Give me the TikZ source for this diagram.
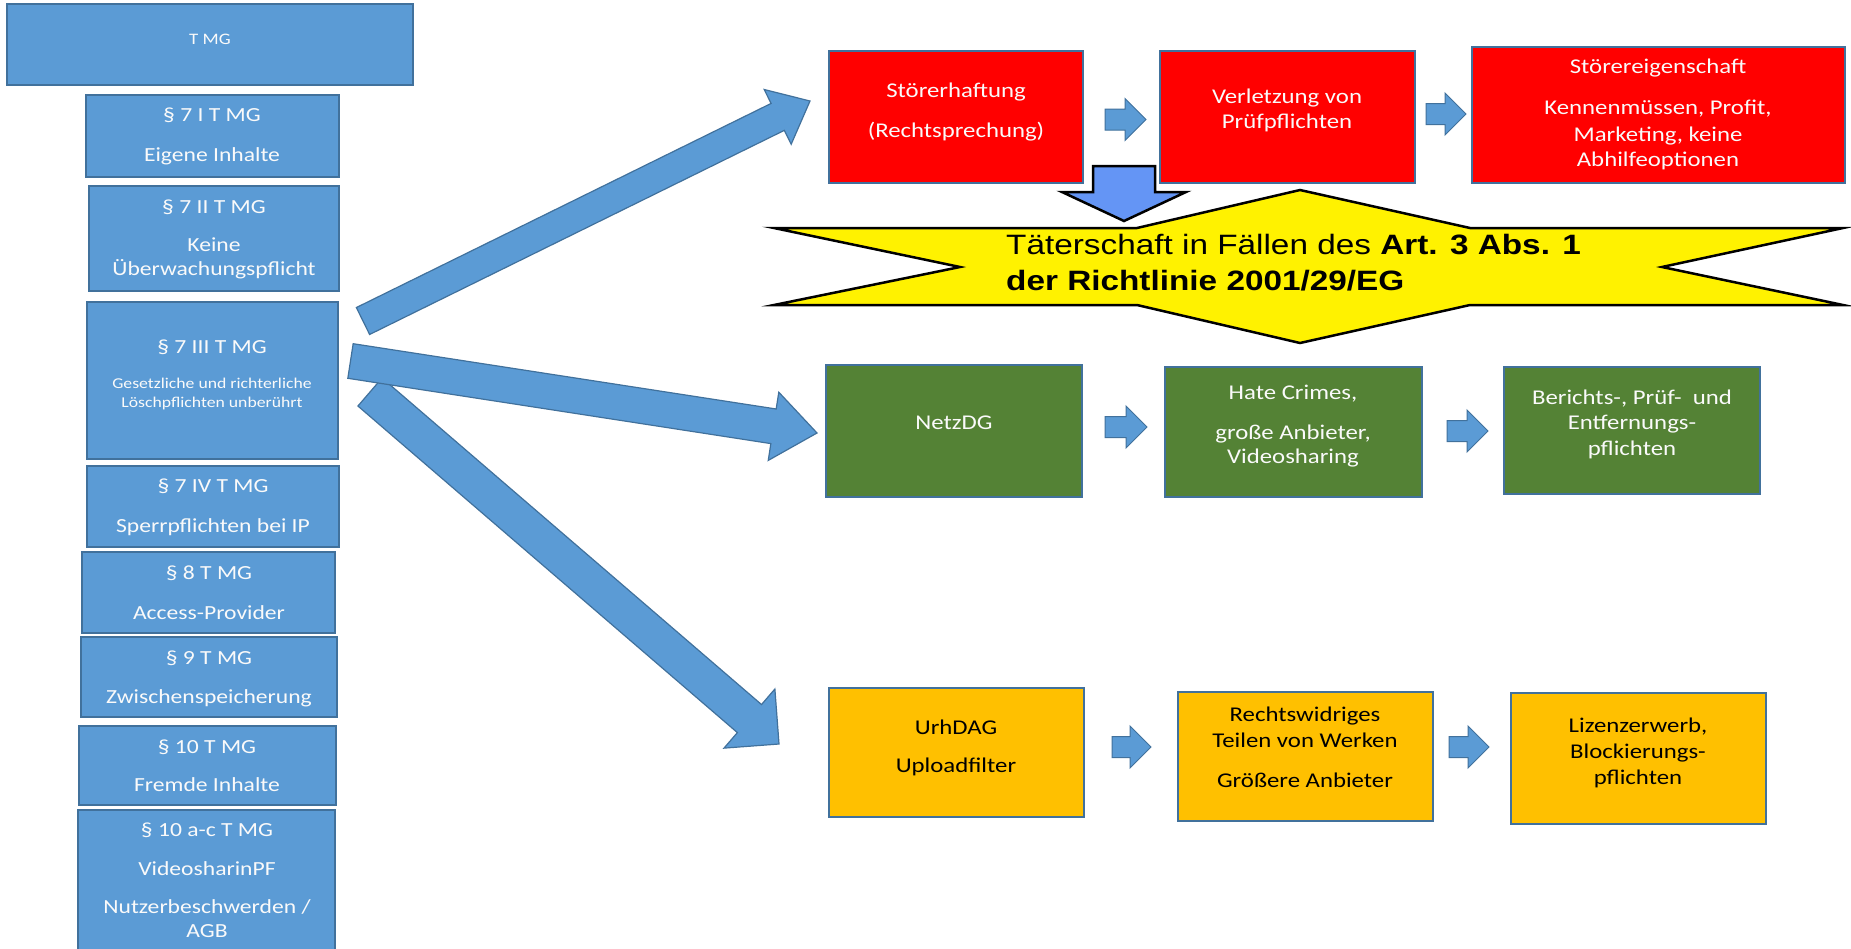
\documentclass[tikz,border=0pt]{standalone}
\usepackage{fontspec}
\setmainfont[FakeStretch=1.18]{Carlito}
\newfontfamily\arialf[FakeStretch=1.19]{Liberation Sans}
\usetikzlibrary{calc}
\definecolor{boxblue}{RGB}{91,155,213}
\definecolor{edgeblue}{RGB}{65,113,156}
\definecolor{dgreen}{RGB}{84,130,53}
\definecolor{orng}{RGB}{255,192,0}
\definecolor{redbox}{RGB}{255,0,0}
\definecolor{downblue}{RGB}{100,149,245}
\definecolor{txtwhite}{RGB}{250,250,250}
\newcommand{\bx}[6]{\node[boxs, fill=#2, minimum width={#5-#3}, minimum height={#6-#4}] (#1) at ({(#3+#5)/2},{(#4+#6)/2}) {};}
\newcommand{\blkarrow}[7]{%
  \coordinate (#7h) at ($(#3)!#6!(#2)$);
  \draw[#1] ($(#2)!#4!90:(#3)$) -- ($(#7h)!#4!-90:(#2)$) -- ($(#7h)!#5!-90:(#2)$) -- (#3) -- ($(#7h)!#5!90:(#2)$) -- ($(#7h)!#4!90:(#2)$) -- ($(#2)!#4!-90:(#3)$) -- cycle;}
\begin{document}
\begin{tikzpicture}[x=1pt,y=-1pt,
  boxs/.style={draw=edgeblue, line width=1.3pt, inner sep=0pt, outer sep=0pt},
  wt/.style={text=txtwhite, anchor=base, inner sep=0pt, font=\fontsize{20}{24}\selectfont},
  wts/.style={wt, font=\fontsize{15}{18}\selectfont},
  rt/.style={text=txtwhite, anchor=base, inner sep=0pt, font=\fontsize{21}{25}\selectfont},
  bt/.style={text=black, anchor=base, inner sep=0pt, font=\fontsize{21}{25}\selectfont},
  bigarr/.style={fill=boxblue, draw=edgeblue, line width=1.2pt, line join=miter},
  smallarr/.style={fill=boxblue, draw=edgeblue, line width=1pt, line join=miter},
  downarr/.style={fill=downblue, draw=black, line width=2.5pt, line join=miter},
  starst/.style={fill=yellow, draw=black, line width=2.5pt, line join=miter},
  startxt/.style={anchor=base west, inner sep=0pt, text=black, font=\arialf\fontsize{28}{34}\selectfont}]
\useasboundingbox (0,0) rectangle (1851,948);
\fill[white] (0,0) rectangle (1851,948);

% big arrows
\coordinate (a3s) at (370,392); \coordinate (a3e) at (779,744);
\blkarrow{bigarr}{a3s}{a3e}{18.5pt}{39pt}{39pt}{a3}
\coordinate (a1s) at (363,321); \coordinate (a1e) at (810,101);
\blkarrow{bigarr}{a1s}{a1e}{15pt}{30.5pt}{36pt}{a1}
\coordinate (a2s) at (350.5,361); \coordinate (a2e) at (817,433);
\blkarrow{bigarr}{a2s}{a2e}{17.5pt}{34.5pt}{44pt}{a2}

% left column
\bx{tmg}{boxblue}{7}{4}{413}{85}
\node[wt, font=\fontsize{16}{19}\selectfont] (t0) at (210,44) {T MG};
\bx{l1}{boxblue}{86}{95}{339}{177}
\node[wt] (l1a) at (212,121) {§ 7 I T MG};
\node[wt] (l1b) at (212,161) {Eigene Inhalte};
\bx{l2}{boxblue}{89}{186}{339}{291}
\node[wt] (l2a) at (214,213) {§ 7 II T MG};
\node[wt] (l2b) at (214,251) {Keine};
\node[wt] (l2c) at (214,275) {Überwachungspflicht};
\bx{l3}{boxblue}{87}{302}{338}{459}
\node[wt] (l3a) at (212,353) {§ 7 III T MG};
\node[wts] (l3b) at (212,388) {Gesetzliche und richterliche};
\node[wts] (l3c) at (212,407) {Löschpflichten unberührt};
\bx{l4}{boxblue}{87}{466}{339}{547}
\node[wt] (l4a) at (213,492) {§ 7 IV T MG};
\node[wt] (l4b) at (213,532) {Sperrpflichten bei IP};
\bx{l5}{boxblue}{82}{552}{335}{633}
\node[wt] (l5a) at (209,579) {§ 8 T MG};
\node[wt] (l5b) at (209,619) {Access-Provider};
\bx{l6}{boxblue}{81}{637}{337}{717}
\node[wt] (l6a) at (209,664) {§ 9 T MG};
\node[wt] (l6b) at (209,703) {Zwischenspeicherung};
\bx{l7}{boxblue}{79}{726}{336}{805}
\node[wt] (l7a) at (207,753) {§ 10 T MG};
\node[wt] (l7b) at (207,791) {Fremde Inhalte};
\bx{l8}{boxblue}{78}{810}{335}{970}
\node[wt] (l8a) at (207,836) {§ 10 a-c T MG};
\node[wt] (l8b) at (207,875) {VideosharinPF};
\node[wt] (l8c) at (207,913) {Nutzerbeschwerden /};
\node[wt] (l8d) at (207,937) {AGB};

% red row
\bx{r1}{redbox}{829}{51}{1083}{183}
\node[rt] (r1a) at (956,97) {Störerhaftung};
\node[rt] (r1b) at (956,137) {(Rechtsprechung)};
\bx{r2}{redbox}{1160}{51}{1415}{183}
\node[rt] (r2a) at (1287,103) {Verletzung von};
\node[rt] (r2b) at (1287,128) {Prüfpflichten};
\bx{r3}{redbox}{1472}{47}{1845}{183}
\node[rt] (r3a) at (1658,73) {Störereigenschaft};
\node[rt] (r3b) at (1658,114) {Kennenmüssen, Profit,};
\node[rt] (r3c) at (1658,141) {Marketing, keine};
\node[rt] (r3d) at (1658,166) {Abhilfeoptionen};
\coordinate (sr1s) at (1105,119.5); \coordinate (sr1e) at (1146,119.5);
\blkarrow{smallarr}{sr1s}{sr1e}{10.5pt}{21pt}{21pt}{sr1}
\coordinate (sr2s) at (1426,114); \coordinate (sr2e) at (1466,114);
\blkarrow{smallarr}{sr2s}{sr2e}{10.5pt}{21pt}{21pt}{sr2}

% star
\draw[starst] (774,228) -- (1137,228) -- (1300,190) -- (1470,228) -- (1843,228) -- (1662,267) -- (1843,305) -- (1470,305) -- (1300,343) -- (1137,305) -- (774,305) -- (960,267) -- cycle;
\node[startxt] (s1) at (1006,254) {Täterschaft in Fällen des \textbf{Art. 3 Abs. 1}};
\node[startxt] (s2) at (1006,290) {\textbf{der Richtlinie 2001/29/EG}};

% down arrow
\coordinate (dws) at (1124,166); \coordinate (dwe) at (1124,221);
\blkarrow{downarr}{dws}{dwe}{31pt}{62pt}{29pt}{dw}

% green row
\bx{g1}{dgreen}{826}{365}{1082}{497}
\node[rt] (g1a) at (954,429) {NetzDG};
\bx{g2}{dgreen}{1165}{367}{1422}{497}
\node[rt] (g2a) at (1293,399) {Hate Crimes,};
\node[rt] (g2b) at (1293,439) {große Anbieter,};
\node[rt] (g2c) at (1293,463) {Videosharing};
\bx{g3}{dgreen}{1504}{367}{1760}{494}
\node[rt] (g3a) at (1632,404) {Berichts-, Prüf-\ \ und};
\node[rt] (g3b) at (1632,429) {Entfernungs-};
\node[rt] (g3c) at (1632,455) {pflichten};
\coordinate (sg1s) at (1105,427); \coordinate (sg1e) at (1147,427);
\blkarrow{smallarr}{sg1s}{sg1e}{10.5pt}{21pt}{21pt}{sg1}
\coordinate (sg2s) at (1447,431); \coordinate (sg2e) at (1488,431);
\blkarrow{smallarr}{sg2s}{sg2e}{10.5pt}{21pt}{21pt}{sg2}

% orange row
\bx{o1}{orng}{829}{688}{1084}{817}
\node[bt] (o1a) at (956,734) {UrhDAG};
\node[bt] (o1b) at (956,772) {Uploadfilter};
\bx{o2}{orng}{1178}{692}{1433}{821}
\node[bt] (o2a) at (1305,721) {Rechtswidriges};
\node[bt] (o2b) at (1305,747) {Teilen von Werken};
\node[bt] (o2c) at (1305,787) {Größere Anbieter};
\bx{o3}{orng}{1511}{693}{1766}{824}
\node[bt] (o3a) at (1638,732) {Lizenzerwerb,};
\node[bt] (o3b) at (1638,758) {Blockierungs-};
\node[bt] (o3c) at (1638,784) {pflichten};
\coordinate (so1s) at (1112,747); \coordinate (so1e) at (1151,747);
\blkarrow{smallarr}{so1s}{so1e}{10.5pt}{21pt}{21pt}{so1}
\coordinate (so2s) at (1449,747); \coordinate (so2e) at (1489,747);
\blkarrow{smallarr}{so2s}{so2e}{10.5pt}{21pt}{21pt}{so2}
\end{tikzpicture}
\end{document}
